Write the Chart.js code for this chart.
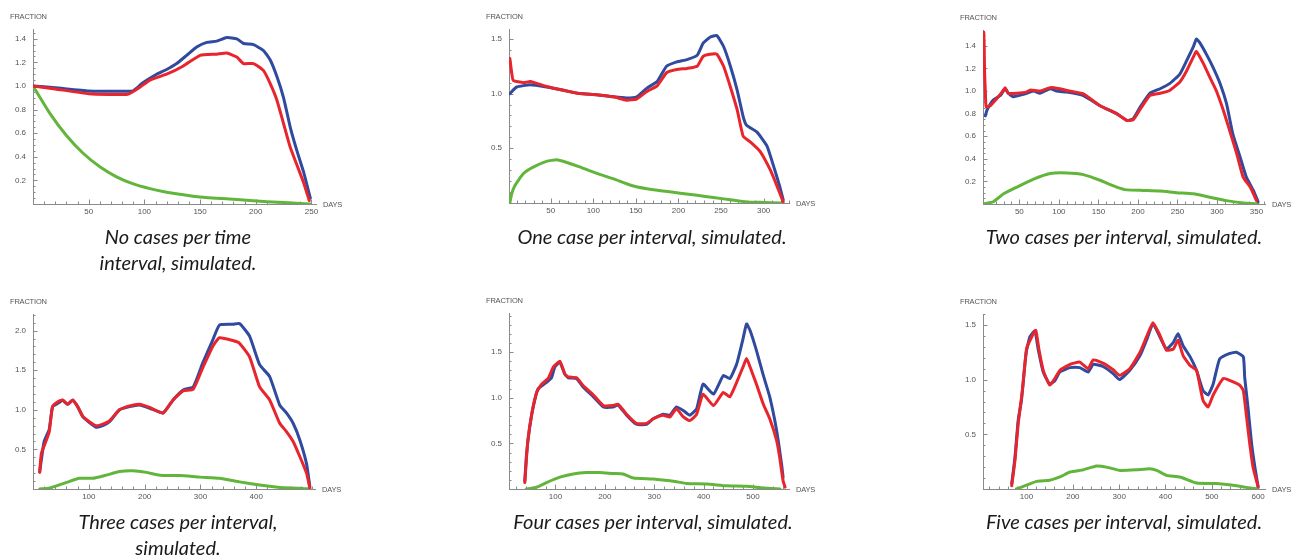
<!DOCTYPE html>
<html>
<head>
<meta charset="utf-8">
<script src="https://cdn.jsdelivr.net/npm/chart.js@4.4.1/dist/chart.umd.min.js"></script>
<style>
  html, body { margin:0; padding:0; background:#fff; }
  body { width:1294px; height:560px; position:relative; overflow:hidden; font-family:"Liberation Sans", Arial, sans-serif; }
  canvas { position:absolute; }
  .lab { position:absolute; font-family:"Liberation Sans", Arial, sans-serif; font-size:7.5px; color:#555; letter-spacing:-0.2px; line-height:8px; white-space:nowrap; }
  .cap { position:absolute; width:420px; text-align:center; font-family:Lato, "Open Sans", sans-serif; font-style:italic; font-size:20px; line-height:26px; color:#1a1a1a; }
</style>
</head>
<body>
<script>
// ---------- data (day, fraction) ----------
const noneBlue  = [[0,1.0],[20,0.985],[50,0.958],[85,0.955],[90,0.96],[99,1.03],[111,1.10],[120,1.14],[129,1.19],[138,1.26],[147,1.33],[156,1.37],[165,1.38],[174,1.41],[183,1.40],[189,1.36],[198,1.35],[207,1.30],[213,1.22],[219,1.08],[225,0.90],[231,0.65],[237,0.45],[243,0.27],[249,0.05]];
const noneRed   = [[0,1.0],[20,0.975],[50,0.935],[85,0.93],[96,0.99],[105,1.05],[120,1.10],[135,1.17],[150,1.26],[165,1.27],[174,1.28],[183,1.245],[189,1.19],[198,1.19],[207,1.13],[213,1.02],[219,0.88],[225,0.68],[231,0.48],[237,0.33],[243,0.18],[248,0.03]];
const noneGreen = [[0,1.0],[15,0.77],[30,0.58],[45,0.43],[60,0.315],[75,0.23],[90,0.17],[105,0.13],[120,0.10],[150,0.06],[180,0.04],[210,0.02],[240,0.005],[249,0]];

const oneBlue  = [[2,1.0],[10,1.06],[26,1.08],[45,1.06],[65,1.03],[84,1.0],[104,0.99],[124,0.97],[139,0.96],[151,0.97],[163,1.05],[175,1.11],[186,1.25],[198,1.29],[210,1.31],[222,1.35],[229,1.46],[237,1.515],[245,1.53],[253,1.43],[261,1.25],[269,1.03],[276,0.79],[280,0.71],[292,0.65],[304,0.52],[312,0.33],[319,0.15],[323,0.03]];
const oneRed   = [[2,1.32],[4,1.2],[6,1.12],[18,1.10],[26,1.11],[45,1.065],[65,1.03],[84,1.0],[104,0.99],[124,0.97],[139,0.94],[151,0.95],[163,1.02],[175,1.07],[186,1.19],[198,1.22],[210,1.23],[222,1.25],[229,1.34],[237,1.36],[245,1.36],[253,1.25],[261,1.06],[269,0.85],[276,0.61],[284,0.56],[296,0.47],[308,0.30],[316,0.15],[323,0.01]];
const oneGreen = [[2,0],[4,0.08],[8,0.16],[18,0.27],[30,0.33],[45,0.38],[57,0.395],[69,0.37],[84,0.33],[104,0.27],[124,0.22],[143,0.165],[163,0.13],[182,0.11],[202,0.09],[222,0.07],[241,0.05],[261,0.03],[280,0.01],[300,0.005],[320,0]];

const twoBlue  = [[7,0.78],[9,0.83],[17,0.92],[26,0.96],[32,1.02],[36,0.98],[42,0.95],[55,0.97],[68,1.0],[76,0.98],[89,1.02],[97,1.0],[110,0.99],[131,0.96],[152,0.87],[173,0.80],[186,0.74],[194,0.755],[203,0.86],[215,0.98],[228,1.02],[240,1.065],[253,1.15],[261,1.26],[270,1.39],[274,1.46],[278,1.43],[287,1.32],[295,1.21],[304,1.065],[312,0.89],[320,0.62],[329,0.42],[337,0.24],[346,0.12],[352,0.02]];
const twoRed   = [[5,1.52],[5.5,1.40],[6,1.17],[7,0.99],[8,0.86],[13,0.87],[21,0.93],[28,0.99],[32,1.03],[36,0.98],[47,0.98],[59,0.99],[64,1.01],[76,1.0],[89,1.03],[101,1.02],[110,1.005],[131,0.975],[152,0.87],[173,0.80],[186,0.74],[194,0.745],[203,0.84],[215,0.96],[228,0.98],[240,1.005],[253,1.08],[261,1.17],[270,1.30],[274,1.35],[283,1.24],[291,1.12],[299,1.005],[308,0.83],[316,0.65],[325,0.445],[333,0.24],[342,0.15],[350,0.03]];
const twoGreen = [[5,0],[17,0.02],[30,0.09],[47,0.15],[68,0.22],[89,0.27],[110,0.275],[131,0.26],[152,0.21],[173,0.15],[186,0.125],[207,0.12],[228,0.115],[249,0.10],[270,0.09],[291,0.06],[312,0.03],[333,0.01],[352,0]];

const threeBlue  = [[12,0.22],[15,0.37],[20,0.6],[29,0.75],[35,1.04],[44,1.08],[53,1.12],[62,1.07],[71,1.12],[80,1.04],[89,0.915],[101,0.84],[113,0.78],[125,0.80],[137,0.85],[155,1.0],[173,1.04],[191,1.06],[209,1.02],[233,0.96],[251,1.125],[269,1.25],[287,1.29],[304,1.59],[322,1.88],[334,2.07],[358,2.08],[370,2.09],[388,1.93],[406,1.57],[424,1.42],[442,1.06],[454,0.96],[466,0.83],[478,0.62],[490,0.32],[496,0.03]];
const threeRed   = [[12,0.21],[15,0.45],[23,0.6],[29,0.72],[35,1.04],[44,1.10],[53,1.125],[62,1.07],[71,1.125],[80,1.04],[89,0.92],[101,0.85],[113,0.80],[125,0.82],[137,0.86],[155,1.0],[173,1.05],[191,1.07],[209,1.03],[233,0.96],[251,1.125],[269,1.24],[287,1.26],[304,1.53],[322,1.80],[334,1.91],[358,1.875],[370,1.84],[388,1.67],[406,1.29],[424,1.125],[442,0.83],[454,0.725],[466,0.60],[478,0.41],[490,0.20],[496,0.01]];
const threeGreen = [[12,0],[29,0.01],[59,0.08],[83,0.135],[107,0.135],[131,0.175],[155,0.22],[179,0.23],[203,0.21],[227,0.175],[263,0.17],[299,0.15],[334,0.135],[370,0.09],[406,0.05],[442,0.02],[478,0.01],[496,0]];

const fourBlue  = [[38,0.09],[41.5,0.38],[47,0.64],[55,0.90],[65,1.10],[82,1.17],[92,1.22],[99,1.34],[109,1.39],[119,1.26],[126,1.22],[143,1.21],[156,1.12],[177,1.01],[197,0.90],[217,0.90],[227,0.92],[244,0.81],[264,0.71],[285,0.71],[298,0.77],[318,0.82],[332,0.81],[345,0.90],[359,0.86],[372,0.81],[386,0.88],[399,1.15],[420,1.04],[440,1.245],[453,1.21],[467,1.37],[480,1.65],[487,1.81],[494,1.74],[507,1.52],[521,1.245],[534,1.01],[548,0.64],[558,0.27],[561,0.13]];
const fourRed   = [[38,0.07],[41.5,0.35],[45,0.57],[52,0.82],[62,1.06],[72,1.15],[85,1.21],[96,1.34],[109,1.40],[119,1.26],[126,1.23],[143,1.22],[156,1.135],[177,1.03],[197,0.915],[217,0.915],[227,0.93],[244,0.82],[264,0.72],[285,0.72],[298,0.77],[318,0.81],[332,0.79],[345,0.88],[359,0.79],[372,0.75],[386,0.82],[399,1.04],[420,0.915],[440,1.06],[453,1.01],[467,1.17],[480,1.34],[487,1.43],[494,1.34],[507,1.15],[521,0.93],[534,0.77],[548,0.53],[554,0.35],[561,0.09],[565,0.02]];
const fourGreen = [[41,0],[62,0.02],[82,0.07],[109,0.13],[136,0.165],[163,0.18],[190,0.18],[217,0.17],[237,0.165],[258,0.12],[298,0.11],[339,0.085],[366,0.06],[406,0.055],[447,0.035],[487,0.03],[521,0.01],[555,0]];

const fiveBlue  = [[68,0.05],[75,0.29],[82,0.63],[89,0.81],[99,1.24],[107,1.39],[118,1.445],[125,1.28],[136,1.07],[150,0.96],[161,0.99],[172,1.07],[194,1.11],[215,1.11],[233,1.07],[244,1.14],[265,1.12],[287,1.055],[301,1.0],[323,1.085],[345,1.22],[359,1.36],[373,1.51],[388,1.39],[402,1.28],[417,1.34],[427,1.42],[438,1.31],[453,1.21],[467,1.085],[481,0.90],[492,0.86],[503,0.96],[517,1.19],[539,1.24],[553,1.25],[568,1.21],[571,1.02],[578,0.75],[586,0.41],[593,0.20],[600,0.02]];
const fiveRed   = [[68,0.03],[75,0.26],[82,0.60],[91,0.90],[100,1.28],[111,1.39],[120,1.45],[127,1.27],[136,1.085],[150,0.95],[161,1.01],[172,1.085],[194,1.14],[215,1.16],[233,1.10],[244,1.18],[265,1.15],[287,1.09],[301,1.04],[323,1.10],[345,1.25],[359,1.39],[373,1.52],[388,1.405],[402,1.27],[417,1.28],[427,1.36],[438,1.22],[453,1.13],[467,1.085],[481,0.81],[492,0.75],[503,0.86],[525,1.01],[546,0.98],[560,0.95],[568,0.90],[575,0.66],[582,0.41],[589,0.20],[600,0.02]];
const fiveGreen = [[78,0],[100,0.035],[122,0.07],[150,0.08],[172,0.11],[194,0.155],[222,0.175],[251,0.21],[273,0.20],[301,0.17],[337,0.175],[366,0.185],[381,0.17],[402,0.125],[431,0.11],[467,0.055],[510,0.05],[546,0.035],[582,0.01],[600,0]];

// ---------- tick labels ----------
const noneXTicks  = [50,100,150,200,250];
const noneYTicks  = [0.2,0.4,0.6,0.8,1.0,1.2,1.4];
const oneXTicks   = [50,100,150,200,250,300];
const oneYTicks   = [0.5,1.0,1.5];
const twoXTicks   = [50,100,150,200,250,300,350];
const twoYTicks   = [0.2,0.4,0.6,0.8,1.0,1.2,1.4];
const threeXTicks = [100,200,300,400];
const threeYTicks = [0.5,1.0,1.5,2.0];
const fourXTicks  = [100,200,300,400,500];
const fourYTicks  = [0.5,1.0,1.5];
const fiveXTicks  = [100,200,300,400,500,600];
const fiveYTicks  = [0.5,1.0,1.5];

const captions = [
  "No cases per time<br>interval, simulated.",
  "One case per interval, simulated.",
  "Two cases per interval, simulated.",
  "Three cases per interval,<br>simulated.",
  "Four cases per interval, simulated.",
  "Five cases per interval, simulated."
];

// ---------- layout / styling ----------
const BLUE = '#2f4a9e', RED = '#e8252c', GREEN = '#62b53b';
const AXIS = '#8a8a8a';

const panels = [
  {blue:noneBlue, red:noneRed, green:noneGreen, xt:noneXTicks, yt:noneYTicks, L:33, R:317, T:29, B:204, xmin:0, xmax:255, ymax:1.483, xMinor:10, yMinor:0.05, cap:[178,223]},
  {blue:oneBlue, red:oneRed, green:oneGreen, xt:oneXTicks, yt:oneYTicks, L:509, R:790, T:29, B:203, xmin:1, xmax:331, ymax:1.59, xMinor:10, yMinor:0.1, cap:[652,223]},
  {blue:twoBlue, red:twoRed, green:twoGreen, xt:twoXTicks, yt:twoYTicks, L:983, R:1266, T:30, B:204, xmin:4, xmax:362, ymax:1.54, xMinor:10, yMinor:0.05, cap:[1124,223]},
  {blue:threeBlue, red:threeRed, green:threeGreen, xt:threeXTicks, yt:threeYTicks, L:33, R:316, T:314, B:489, xmin:0, xmax:507, ymax:2.21, xMinor:20, yMinor:0.1, cap:[178,508]},
  {blue:fourBlue, red:fourRed, green:fourGreen, xt:fourXTicks, yt:fourYTicks, L:509, R:790, T:313, B:489, xmin:6, xmax:575, ymax:1.93, xMinor:20, yMinor:0.1, cap:[653,508]},
  {blue:fiveBlue, red:fiveRed, green:fiveGreen, xt:fiveXTicks, yt:fiveYTicks, L:983, R:1266, T:314, B:489, xmin:6, xmax:617, ymax:1.6, xMinor:20, yMinor:0.1, cap:[1124,508]}
];

const YW = 30, XH = 16, PT = 12, PR = 14;

const mmaAxes = {
  id: 'mmaAxes',
  beforeDatasetsDraw(chart, args, o) {
    const {ctx, chartArea:{left,right,top,bottom}, scales:{x,y}} = chart;
    ctx.save();
    ctx.strokeStyle = AXIS; ctx.lineWidth = 1;
    ctx.beginPath();
    ctx.moveTo(left+0.5, top); ctx.lineTo(left+0.5, bottom+0.5);
    ctx.moveTo(left, bottom+0.5); ctx.lineTo(right, bottom+0.5);
    ctx.stroke();
    ctx.beginPath();
    const isMajor = (v, arr) => arr.some(t => Math.abs(t - v) < 1e-6);
    for (let i = 1; i * o.xMinor <= x.max; i++) {
      const v = i * o.xMinor;
      if (v <= x.min) continue;
      const px = Math.round(x.getPixelForValue(v)) + 0.5;
      const len = isMajor(v, o.xt) ? 4.5 : 2.5;
      ctx.moveTo(px, bottom); ctx.lineTo(px, bottom - len);
    }
    for (let i = 1; i * o.yMinor <= y.max + 1e-9; i++) {
      const v = +(i * o.yMinor).toFixed(4);
      const py = Math.round(y.getPixelForValue(v)) + 0.5;
      const len = isMajor(v, o.yt) ? 4.5 : 2.5;
      ctx.moveTo(left, py); ctx.lineTo(left + len, py);
    }
    ctx.stroke();
    ctx.restore();
  }
};

const toXY = arr => arr.map(p => ({x:p[0], y:p[1]}));

panels.forEach((p, idx) => {
  const cv = document.createElement('canvas');
  const W = (p.R - p.L) + YW + PR;
  const H = (p.B - p.T) + PT + XH;
  cv.width = W; cv.height = H;
  cv.style.left = (p.L - YW) + 'px';
  cv.style.top = (p.T - PT) + 'px';
  cv.style.width = W + 'px'; cv.style.height = H + 'px';
  document.body.appendChild(cv);

  const ds = (data, color, order) => ({
    data: toXY(data), borderColor: color, backgroundColor: color,
    borderWidth: 3, pointRadius: 0, tension: 0.15, fill: false, order: order,
    borderCapStyle: 'round', borderJoinStyle: 'round'
  });

  new Chart(cv, {
    type: 'line',
    data: { datasets: [ ds(p.red, RED, 1), ds(p.blue, BLUE, 2), ds(p.green, GREEN, 3) ] },
    options: {
      responsive: false, animation: false, devicePixelRatio: 1,
      layout: { padding: { top: PT, right: PR, left: 0, bottom: 0 } },
      plugins: { legend: { display: false }, tooltip: { enabled: false }, mmaAxes: { xt: p.xt, yt: p.yt, xMinor: p.xMinor, yMinor: p.yMinor } },
      scales: {
        x: {
          type: 'linear', min: p.xmin, max: p.xmax,
          grid: { display: false, drawTicks: false }, border: { display: false },
          afterBuildTicks: s => { s.ticks = p.xt.map(v => ({value: v})); },
          afterFit: s => { s.height = XH; },
          ticks: { autoSkip: false, maxRotation: 0, padding: 3, color: '#555', font: { family: 'Liberation Sans', size: 8 }, callback: v => String(v) }
        },
        y: {
          type: 'linear', min: 0, max: p.ymax,
          grid: { display: false, drawTicks: false }, border: { display: false },
          afterBuildTicks: s => { s.ticks = p.yt.map(v => ({value: v})); },
          afterFit: s => { s.width = YW; },
          ticks: { autoSkip: false, padding: 7, color: '#555', font: { family: 'Liberation Sans', size: 8 }, callback: v => Number(v).toFixed(1) }
        }
      }
    },
    plugins: [mmaAxes]
  });

  const fr = document.createElement('div');
  fr.className = 'lab'; fr.textContent = 'FRACTION';
  fr.style.left = (p.L - 23) + 'px'; fr.style.top = (p.T - 16) + 'px';
  document.body.appendChild(fr);

  const dy = document.createElement('div');
  dy.className = 'lab'; dy.textContent = 'DAYS';
  dy.style.left = (p.R + 6) + 'px'; dy.style.top = (p.B - 3) + 'px';
  document.body.appendChild(dy);

  const cp = document.createElement('div');
  cp.className = 'cap'; cp.innerHTML = captions[idx];
  cp.style.left = (p.cap[0] - 210) + 'px'; cp.style.top = p.cap[1] + 'px';
  document.body.appendChild(cp);
});
</script>
</body>
</html>
